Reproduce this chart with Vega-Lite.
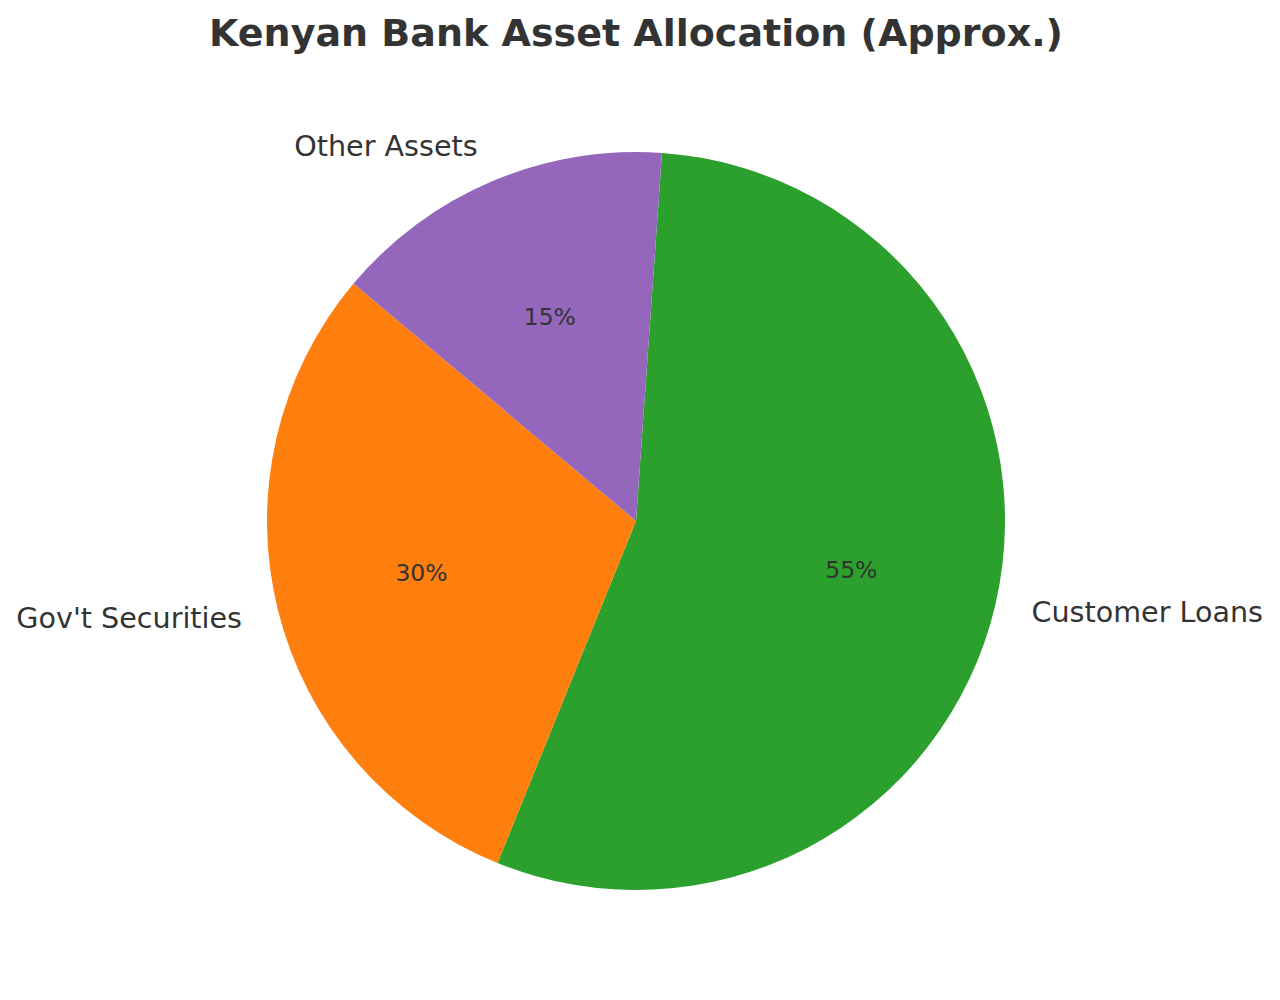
{
  "$schema": "https://vega.github.io/schema/vega-lite/v6.json",
  "autosize": "none",
  "width": 1272,
  "height": 842,
  "padding": {"top": 100, "left": 0, "right": 8, "bottom": 58},
  "background": "white",
  "config": {"view": {"stroke": null}, "font": "DejaVu Sans"},
  "title": {
    "text": "Kenyan Bank Asset Allocation (Approx.)",
    "font": "DejaVu Sans",
    "fontSize": 38,
    "fontWeight": "bold",
    "color": "#333333",
    "anchor": "middle",
    "baseline": "alphabetic",
    "offset": 16
  },
  "data": {
    "values": [
      {"category": "Customer Loans", "share": 0.55},
      {"category": "Gov't Securities", "share": 0.30},
      {"category": "Other Assets", "share": 0.15}
    ]
  },
  "encoding": {
    "theta": {"field": "share", "type": "quantitative", "stack": true, "scale": {"range": [0.0705, 6.3537]}},
    "order": {"field": "category", "sort": "ascending"}
  },
  "layer": [
    {
      "mark": {"type": "arc", "radius": 369},
      "encoding": {
        "color": {
          "field": "category",
          "type": "nominal",
          "scale": {"domain": ["Customer Loans", "Gov't Securities", "Other Assets"], "range": ["#2ca02c", "#ff7f0e", "#9467bd"]},
          "legend": null
        }
      }
    },
    {
      "mark": {"type": "text", "radius": 406, "align": "left", "baseline": "middle", "fontSize": 28.6, "font": "DejaVu Sans", "color": "#333333"},
      "encoding": {
        "text": {"condition": {"test": "datum.category === 'Customer Loans'", "field": "category"}, "value": ""}
      }
    },
    {
      "mark": {"type": "text", "radius": 406, "align": "right", "baseline": "middle", "fontSize": 28.6, "font": "DejaVu Sans", "color": "#333333"},
      "encoding": {
        "text": {"condition": {"test": "datum.category !== 'Customer Loans'", "field": "category"}, "value": ""}
      }
    },
    {
      "mark": {"type": "text", "radius": 221, "align": "center", "baseline": "middle", "fontSize": 23.5, "font": "DejaVu Sans", "color": "#333333"},
      "encoding": {
        "text": {"field": "share", "type": "quantitative", "format": ".0%"}
      }
    }
  ]
}
